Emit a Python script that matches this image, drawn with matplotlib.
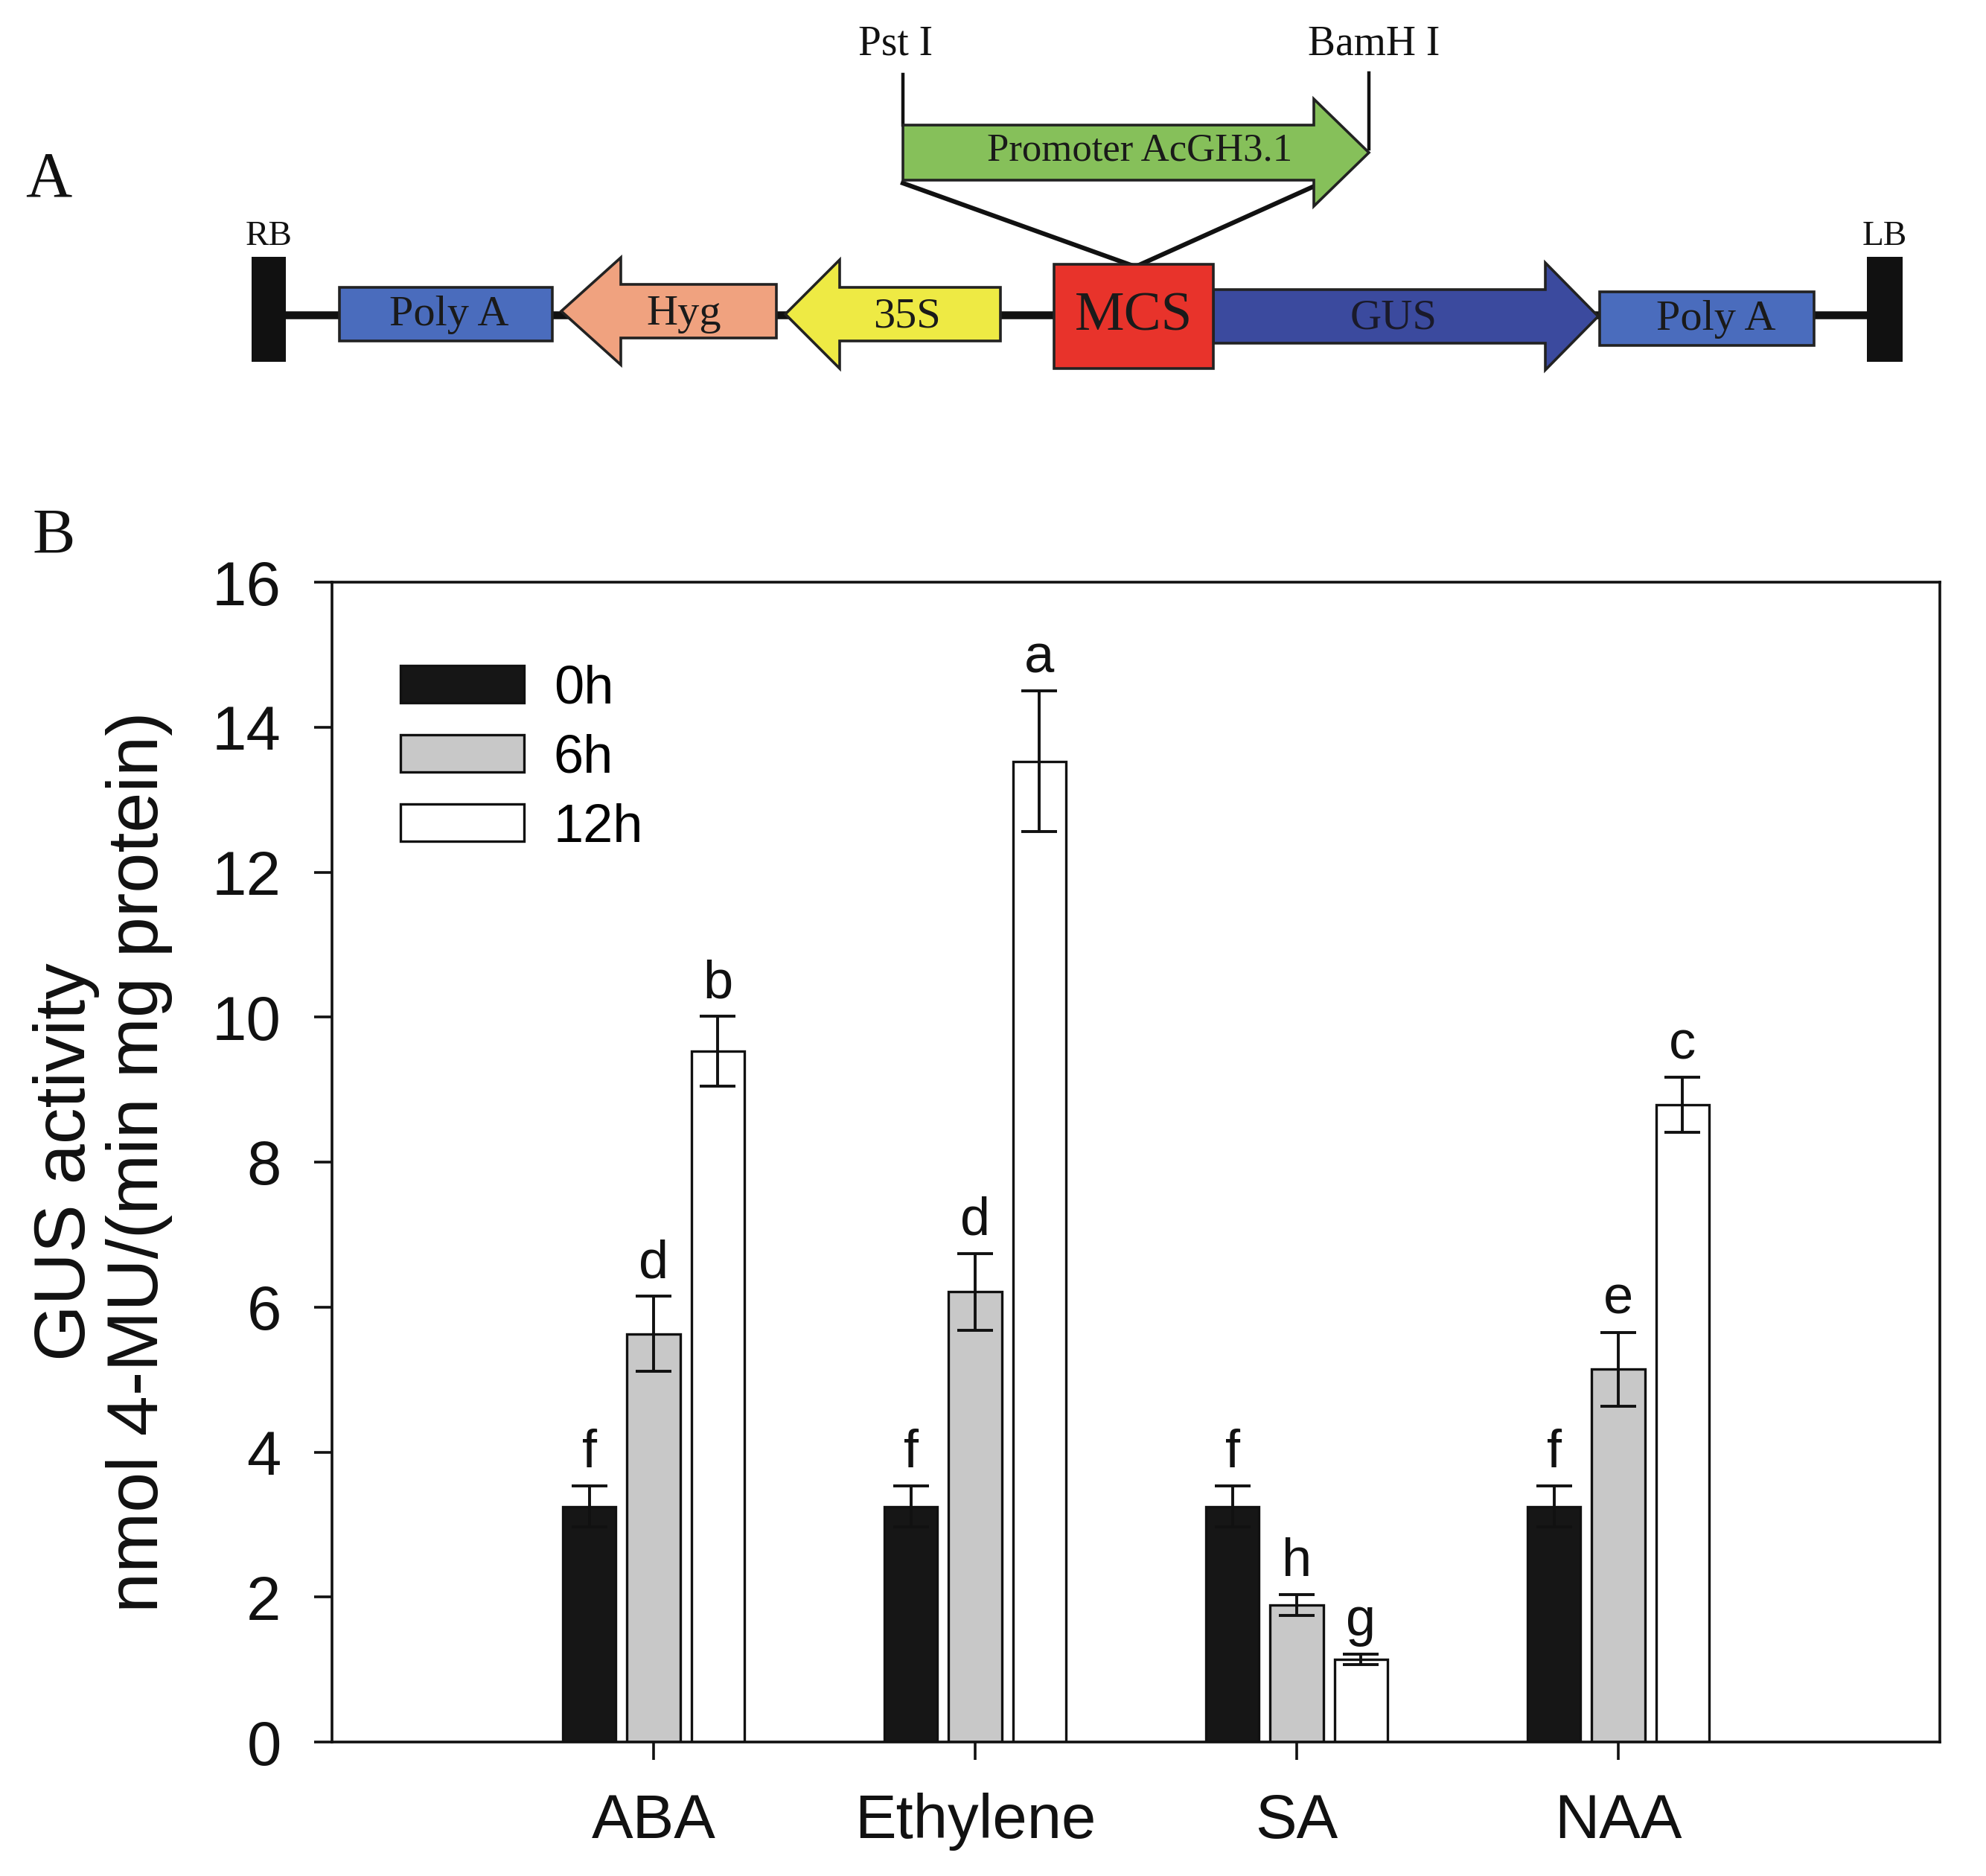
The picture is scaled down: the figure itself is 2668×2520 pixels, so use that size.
import matplotlib
matplotlib.use('Agg')
import matplotlib.pyplot as plt
from matplotlib.patches import Polygon, Rectangle
import numpy as np

# ---------------- data ----------------
categories = ['ABA', 'Ethylene', 'SA', 'NAA']
series_labels = ['0h', '6h', '12h']
values_0h = [3.25, 3.25, 3.25, 3.25]
values_6h = [5.63, 6.21, 1.89, 5.14]
values_12h = [9.53, 13.53, 1.14, 8.79]
err_0h = [0.28, 0.28, 0.28, 0.28]
err_6h = [0.52, 0.53, 0.14, 0.51]
err_12h = [0.48, 0.97, 0.07, 0.38]
letters_0h = ['f', 'f', 'f', 'f']
letters_6h = ['d', 'd', 'h', 'e']
letters_12h = ['b', 'a', 'g', 'c']
yticks = [0, 2, 4, 6, 8, 10, 12, 14, 16]
ylabel_text = 'GUS activity\nnmol 4-MU/(min mg protein)'

SANS = ['Liberation Sans', 'DejaVu Sans']
SERIF = ['Liberation Serif', 'DejaVu Serif']

DPI = 200
fig = plt.figure(figsize=(2668 / DPI, 2520 / DPI), dpi=DPI)
fig.patch.set_facecolor('white')

# ---------------- panel A: construct schematic (pixel coordinates) ----------------
axd = fig.add_axes([0, 0, 1, 1])
axd.set_xlim(0, 2668)
axd.set_ylim(2520, 0)
axd.axis('off')

EDGE = '#222222'
ELW = 1.3


def rarrow(x0, xh, xt, yc, hb, hh):
    return [(x0, yc - hb), (xh, yc - hb), (xh, yc - hh), (xt, yc),
            (xh, yc + hh), (xh, yc + hb), (x0, yc + hb)]


def larrow(xt, xh, x1, yc, hb, hh):
    return [(x1, yc - hb), (xh, yc - hb), (xh, yc - hh), (xt, yc),
            (xh, yc + hh), (xh, yc + hb), (x1, yc + hb)]


# backbone
axd.plot([361, 2532], [423, 423], color='#111111', lw=3.8, solid_capstyle='butt', zorder=1)
# RB / LB bars
axd.add_patch(Rectangle((338, 345), 46, 141, facecolor='#111111', edgecolor='none', zorder=2))
axd.add_patch(Rectangle((2508, 345), 48, 141, facecolor='#111111', edgecolor='none', zorder=2))
axd.text(361, 318, 'RB', family=SERIF, fontsize=17, ha='center', va='center', color='#111111')
axd.text(2532, 318, 'LB', family=SERIF, fontsize=17, ha='center', va='center', color='#111111')

# Poly A left
axd.add_patch(Rectangle((456, 386), 286, 72, facecolor='#4a6cbd', edgecolor=EDGE, lw=ELW, zorder=3))
axd.text(603, 423, 'Poly A', family=SERIF, fontsize=21, ha='center', va='center', color='#1a1a1a', zorder=5)
# Hyg
axd.add_patch(Polygon(larrow(754, 834, 1043, 418, 36, 72), closed=True,
                      facecolor='#f0a27f', edgecolor=EDGE, lw=ELW, zorder=3))
axd.text(919, 422, 'Hyg', family=SERIF, fontsize=21, ha='center', va='center', color='#1a1a1a', zorder=5)
# 35S
axd.add_patch(Polygon(larrow(1055, 1128, 1344, 422, 36, 73), closed=True,
                      facecolor='#eeea44', edgecolor=EDGE, lw=ELW, zorder=3))
axd.text(1218, 426, '35S', family=SERIF, fontsize=21, ha='center', va='center', color='#1a1a1a', zorder=5)
# GUS
axd.add_patch(Polygon(rarrow(1630, 2076, 2147, 425, 36, 72), closed=True,
                      facecolor='#3b4a9e', edgecolor=EDGE, lw=ELW, zorder=3))
axd.text(1872, 427, 'GUS', family=SERIF, fontsize=21, ha='center', va='center', color='#1a1a2a', zorder=5)
# Poly A right
axd.add_patch(Rectangle((2149, 392), 288, 72, facecolor='#4a6cbd', edgecolor=EDGE, lw=ELW, zorder=3))
axd.text(2305, 429, 'Poly A', family=SERIF, fontsize=21, ha='center', va='center', color='#1a1a1a', zorder=5)

# insertion lines
axd.plot([1213, 1522], [246, 357], color='#111111', lw=2.2, zorder=2)
axd.plot([1768, 1528], [249, 357], color='#111111', lw=2.2, zorder=2)
# MCS
axd.add_patch(Rectangle((1416, 355), 214, 140, facecolor='#e8332b', edgecolor=EDGE, lw=ELW, zorder=4))
axd.text(1523, 426, 'MCS', family=SERIF, fontsize=27, ha='center', va='center', color='#1a1a1a', zorder=5)

# promoter arrow
axd.add_patch(Polygon(rarrow(1213, 1765, 1839, 205, 37, 72), closed=True,
                      facecolor='#86c05a', edgecolor=EDGE, lw=ELW, zorder=3))
axd.text(1531, 202, 'Promoter AcGH3.1', family=SERIF, fontsize=19, ha='center', va='center',
         color='#1a1a1a', zorder=5)
# restriction site lines
axd.plot([1213, 1213], [100, 168], color='#111111', lw=1.6, zorder=2)
axd.plot([1839, 1839], [98, 200], color='#111111', lw=1.6, zorder=2)
axd.text(1203, 60, 'Pst I', family=SERIF, fontsize=20, ha='center', va='center', color='#111111')
axd.text(1846, 60, 'BamH I', family=SERIF, fontsize=20, ha='center', va='center', color='#111111')

# panel letters
axd.text(65, 243, 'A', family=SERIF, fontsize=31, ha='center', va='center', color='#111111')
axd.text(72, 722, 'B', family=SERIF, fontsize=31, ha='center', va='center', color='#111111')

# ---------------- panel B: bar chart ----------------
ax = fig.add_axes([446 / 2668, 1 - 2340 / 2520, (2606 - 446) / 2668, (2340 - 782) / 2520])
ax.set_zorder(2)

x = np.arange(1, len(categories) + 1)
width = 0.165
offsets = [-0.2, 0.0, 0.2]
vals = [values_0h, values_6h, values_12h]
errs = [err_0h, err_6h, err_12h]
lets = [letters_0h, letters_6h, letters_12h]
colors = ['#161616', '#c8c8c8', '#ffffff']

for i in range(3):
    ax.bar(x + offsets[i], vals[i], width=width, color=colors[i], edgecolor='#111111',
           linewidth=1.2, label=series_labels[i], zorder=2)
    ax.errorbar(x + offsets[i], vals[i], yerr=errs[i], fmt='none', ecolor='#111111',
                elinewidth=1.4, capsize=8.5, capthick=1.4, zorder=3)
    for xi, v, e, t in zip(x + offsets[i], vals[i], errs[i], lets[i]):
        ax.annotate(t, xy=(xi, v + e), xytext=(0, 9), textcoords='offset points',
                    ha='center', va='baseline', fontsize=26, family=SANS, color='#111111')

ax.set_xlim(0, 5)
ax.set_ylim(0, 16)
ax.set_yticks(yticks)
ax.set_xticks(x)
ax.set_xticklabels(categories)
for lab in ax.get_xticklabels() + ax.get_yticklabels():
    lab.set_family(SANS)
    lab.set_fontsize(30)
    lab.set_color('#111111')
ax.tick_params(axis='both', direction='out', length=8.6, width=1.3, pad=16, colors='#111111',
               top=False, right=False)
for s in ax.spines.values():
    s.set_linewidth(1.3)
    s.set_color('#111111')

ax.set_ylabel(ylabel_text, family=SANS, fontsize=35, color='#111111', linespacing=1.12)
ax.yaxis.set_label_coords(-0.099, 0.5)

leg = ax.legend(loc='upper left', bbox_to_anchor=(0.0426, 0.929), frameon=False,
                prop={'family': SANS, 'size': 26}, handlelength=2.3, handleheight=0.68,
                handletextpad=0.55, labelspacing=0.36, borderpad=0, borderaxespad=0)

fig.savefig('out.png', dpi=DPI, facecolor='white')
